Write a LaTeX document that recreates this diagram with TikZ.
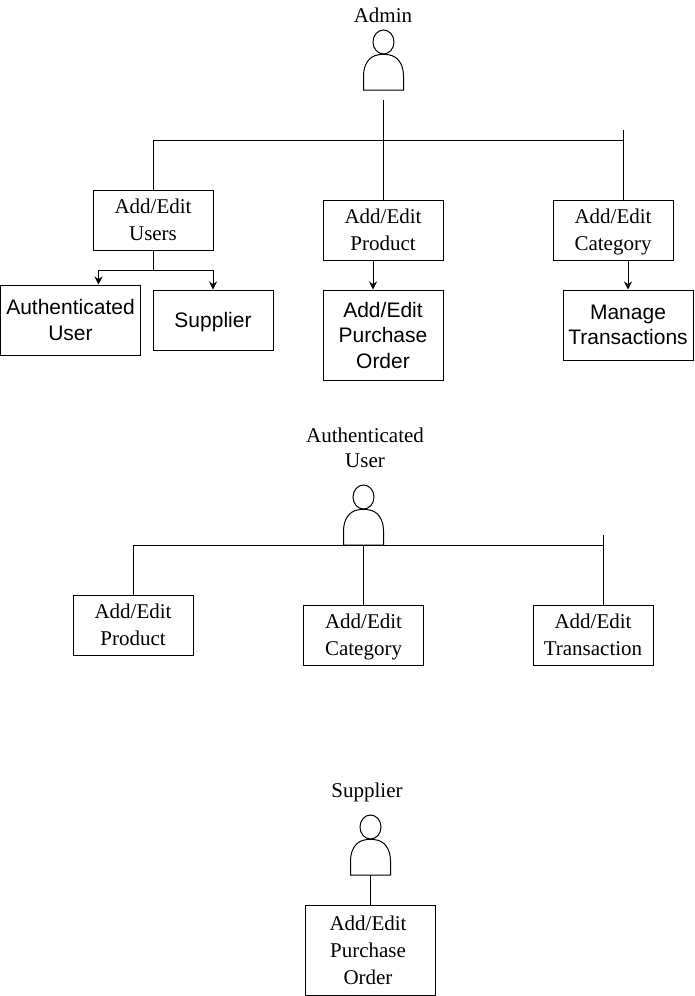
\documentclass[tikz,border=0pt]{standalone}
\usepackage{fontspec}
\setmainfont{Liberation Serif}
\setsansfont{Liberation Sans}
\usetikzlibrary{arrows.meta}
\newcommand{\nudge}{\kern5pt\relax}
\tikzset{
  serifbox/.style={draw,align=center,minimum width=120pt,minimum height=60pt,inner sep=0pt,text depth=0pt,font=\fontsize{21}{27}\selectfont},
  sansbox/.style={draw,align=center,minimum width=120pt,minimum height=60pt,inner sep=0pt,text depth=0pt,font=\sffamily\fontsize{21}{25.5}\selectfont},
  caption/.style={align=center,inner sep=0pt,text depth=0pt,font=\fontsize{21}{25}\selectfont},
  arrowline/.style={-{Stealth[length=8pt,width=8pt]}},
  person/.pic={
    \draw (0,-48) ellipse [x radius=10.5,y radius=12];
    \draw (-20,0)--(-20,-14) .. controls (-20,-27) and (-13,-34) .. (-6,-35) .. controls (-2,-36) and (2,-36) .. (6,-35) .. controls (13,-34) and (20,-27) .. (20,-14)--(20,0)--cycle;
    \coordinate (-foot) at (0,0);
  }
}
\begin{document}
\begin{tikzpicture}[x=1pt,y=-1pt,line width=1pt]
\useasboundingbox (0,0) rectangle (694,996);
% admin
\node[caption] (admintitle) at (383,15) {Admin};
\pic (adminicon) at (383.5,90) {person};
\coordinate (admintrunk) at (383,100);
\coordinate (adminbar) at (623,140);
\coordinate (admincap) at (623,130);
\node[serifbox] (addusers) at (153,220) {Add/Edit\\Users};
\node[serifbox] (addproduct) at (383,230) {Add/Edit\\Product};
\node[serifbox] (addcategory) at (613,230) {Add/Edit\\Category};
\node[sansbox,minimum width=140pt,minimum height=70pt] (authuser) at (70.5,320) {Authenticated\\User};
\node[sansbox] (supplierbox) at (213,320) {Supplier};
\node[sansbox,minimum height=90pt] (addorder) at (383,335) {Add/Edit\\Purchase\\Order};
\node[sansbox,minimum width=130pt,minimum height=70pt] (managetrans) at (628,325) {Manage\\Transactions};
\draw (admintrunk)--(addproduct);
\draw (addusers) |- (adminbar);
\draw (admincap)--(admincap |- addcategory.north);
\coordinate (usersfork) at (153,270);
\draw (addusers)--(usersfork);
\draw[arrowline] (usersfork) -| ([xshift=28pt]authuser.north);
\draw[arrowline] (usersfork) -| (supplierbox);
\draw[arrowline] ([xshift=-10pt]addproduct.south)--([xshift=-10pt]addorder.north);
\draw[arrowline] (managetrans |- addcategory.south)--(managetrans);
% authenticated user
\node[caption] (authtitle) at (365,447.5) {Authenticated\\User};
\pic (authicon) at (363.5,545) {person};
\coordinate (authbar) at (603,545);
\coordinate (authcap) at (603,535);
\node[serifbox] (authproduct) at (133,625) {Add/Edit\\Product};
\node[serifbox] (authcategory) at (363.5,635) {Add/Edit\\Category};
\node[serifbox] (authtrans) at (593,635) {Add/Edit\\Transaction};
\draw (authproduct) |- (authbar);
\draw (authicon-foot)--(authcategory);
\draw (authcap)--(authcap |- authtrans.north);
% supplier
\node[caption] (suppliertitle) at (367,790) {Supplier};
\pic (suppliericon) at (370.5,875) {person};
\node[serifbox,minimum width=130pt,minimum height=90pt] (supplierorder) at (370.5,950) {Add/Edit\nudge\\Purchase\nudge\\Order\nudge};
\draw (suppliericon-foot)--(supplierorder);
\end{tikzpicture}
\end{document}
